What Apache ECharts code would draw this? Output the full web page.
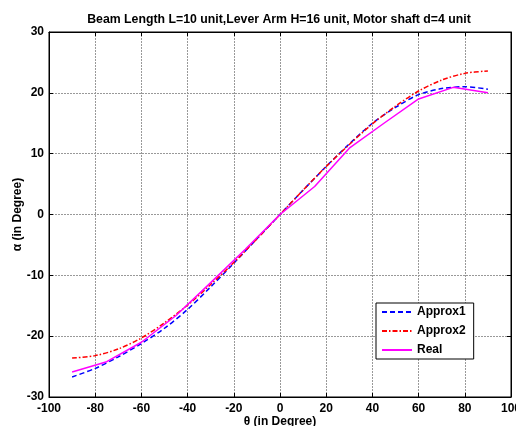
<!DOCTYPE html>
<html><head><meta charset="utf-8">
<script src="https://cdn.jsdelivr.net/npm/echarts@6/dist/echarts.min.js"></script>
<style>html,body{margin:0;padding:0;background:#fff}#c{width:516px;height:426px}</style>
</head><body><div id="c"></div>
<script>
var titleText = 'Beam Length L=10 unit,Lever Arm H=16 unit, Motor shaft d=4 unit';
var thetaApprox = [-90,-80,-70,-60,-50,-40,-30,-20,-10,0,10,20,30,40,50,60,70,80,90];
var approx1 = [-26.7,-25.3,-23.4,-21.2,-18.7,-15.6,-11.9,-8.0,-4.0,0,4.0,7.9,11.6,15.0,17.6,19.7,20.7,21.0,20.6];
var approx2 = [-23.6,-23.2,-22.1,-20.3,-17.8,-14.9,-11.5,-7.9,-4.0,0,4.0,7.9,11.5,14.9,17.8,20.3,22.1,23.2,23.6];
var thetaReal = [-90,-75,-60,-45,-30,-15,0,15,30,45,60,75,90];
var real = [-25.9,-24.2,-21.0,-16.6,-11.2,-5.7,0,4.6,10.9,15.0,19.0,20.9,20.0];
var xTicks = {min:-100,max:100,interval:20};
var yTicks = {min:-30,max:30,interval:10};

function pairs(xs, ys){ return xs.map(function(x,i){return [x, ys[i]];}); }
var font = 'Liberation Sans, Arial, sans-serif';
var chart = echarts.init(document.getElementById('c'), null, {renderer:'canvas'});
var gridLine = {show:true, lineStyle:{color:'#999', type:[2,1], width:1}};
chart.setOption({
  animation:false,
  backgroundColor:'#fff',
  title:{text:titleText, left:274, top:9, textAlign:'center',
    textStyle:{fontFamily:font, fontSize:12.3, fontWeight:'bold', color:'#000'}},
  grid:{left:49, right:5, top:32, bottom:29, containLabel:false, outerBoundsMode:'none',
    show:true, borderColor:'#000', borderWidth:1, backgroundColor:'#fff'},
  legend:{
    data:['Approx1','Approx2','Real'], orient:'vertical', left:376, top:303,
    backgroundColor:'#fff', borderColor:'#000', borderWidth:1, padding:[3,8,3,5],
    itemWidth:30, itemHeight:10, itemGap:7,
    itemStyle:{opacity:0},
    textStyle:{fontFamily:font, fontSize:12, fontWeight:'bold', color:'#000'}
  },
  xAxis:[{
    type:'value', min:xTicks.min, max:xTicks.max, interval:xTicks.interval,
    name:'θ (in Degree)', nameLocation:'middle', nameGap:19, nameMoveOverlap:false,
    nameTextStyle:{fontFamily:font, fontSize:12, fontWeight:'bold', color:'#000'},
    axisLine:{show:true, onZero:false, lineStyle:{color:'#000', width:1}},
    axisTick:{show:true, inside:true, length:4, lineStyle:{color:'#000'}},
    axisLabel:{fontFamily:font, fontSize:12, fontWeight:'bold', color:'#000', margin:6},
    splitLine:gridLine
  },{
    type:'value', position:'top', min:xTicks.min, max:xTicks.max, interval:xTicks.interval,
    axisLine:{show:true, onZero:false, lineStyle:{color:'#000'}},
    axisTick:{show:true, inside:true, length:4, lineStyle:{color:'#000'}},
    axisLabel:{show:false}, splitLine:{show:false}
  }],
  yAxis:[{
    type:'value', min:yTicks.min, max:yTicks.max, interval:yTicks.interval,
    name:'α (in Degree)', nameLocation:'middle', nameGap:25, nameRotate:90, nameMoveOverlap:false,
    nameTextStyle:{fontFamily:font, fontSize:12, fontWeight:'bold', color:'#000'},
    axisLine:{show:true, onZero:false, lineStyle:{color:'#000', width:1}},
    axisTick:{show:true, inside:true, length:4, lineStyle:{color:'#000'}},
    axisLabel:{fontFamily:font, fontSize:12, fontWeight:'bold', color:'#000', margin:5},
    splitLine:gridLine
  },{
    type:'value', position:'right', min:yTicks.min, max:yTicks.max, interval:yTicks.interval,
    axisLine:{show:true, onZero:false, lineStyle:{color:'#000'}},
    axisTick:{show:true, inside:true, length:4, lineStyle:{color:'#000'}},
    axisLabel:{show:false}, splitLine:{show:false}
  }],
  series:[
    {name:'Approx1', type:'line', data:pairs(thetaApprox, approx1), symbol:'none', smooth:0.3,
      lineStyle:{color:'#0000ff', width:1.5, type:[5,3]}, itemStyle:{color:'#0000ff'}},
    {name:'Approx2', type:'line', data:pairs(thetaApprox, approx2), symbol:'none', smooth:0.3,
      lineStyle:{color:'#ff0000', width:1.5, type:[5,2,1.5,2]}, itemStyle:{color:'#ff0000'}},
    {name:'Real', type:'line', data:pairs(thetaReal, real), symbol:'none',
      lineStyle:{color:'#ff00ff', width:1.5, type:'solid'}, itemStyle:{color:'#ff00ff'}}
  ]
});
</script></body></html>
